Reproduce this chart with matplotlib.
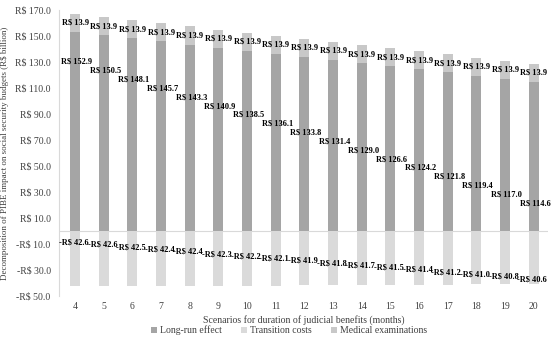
import numpy as np
import matplotlib
matplotlib.use('Agg')
import matplotlib.pyplot as plt
from matplotlib.ticker import FuncFormatter

plt.rcParams['font.family'] = ['Liberation Serif', 'DejaVu Serif']

# scenarios (months of judicial benefit)
months = [4, 5, 6, 7, 8, 9, 10, 11, 12, 13, 14, 15, 16, 17, 18, 19, 20]
long_run = [152.9, 150.5, 148.1, 145.7, 143.3, 140.9, 138.5, 136.1, 133.8,
            131.4, 129.0, 126.6, 124.2, 121.8, 119.4, 117.0, 114.6]
transition = [-42.6, -42.6, -42.5, -42.4, -42.4, -42.3, -42.2, -42.1, -41.9,
              -41.8, -41.7, -41.5, -41.4, -41.2, -41.0, -40.8, -40.6]
medical = [13.9] * 17

c_long = '#a5a5a5'
c_trans = '#dadada'
c_med = '#c8c8c8'

fig = plt.figure(figsize=(5.57, 3.49), dpi=100)
ax = fig.add_axes([0.106, 0.152, 0.878, 0.82])

x = np.arange(len(months))
w = 0.35
ax.bar(x, long_run, w, color=c_long, label='Long-run effect', zorder=2)
ax.bar(x, transition, w, color=c_trans, label='Transition costs', zorder=2)
ax.bar(x, medical, w, bottom=long_run, color=c_med, label='Medical examinations', zorder=2)

ax.axhline(0, color='#d9d9d9', lw=0.8, zorder=1)

def money(v):
    s = 'R$ %.1f' % abs(v)
    return '-' + s if v < 0 else s

lab = dict(fontsize=6, fontweight='bold', ha='center', va='center', zorder=3)
for i in x:
    # data labels were hand-placed in a descending line in the original
    ax.text(i + 0.05, 130 - 6.8 * i, money(long_run[i]), **lab)
    ax.text(i - 0.05, -9 - 1.75 * i, money(transition[i]), **lab)
    ax.text(i, long_run[i] + medical[i] / 2, money(medical[i]), **lab)

ax.set_xlim(-0.56, 16.5)
ax.set_ylim(-50, 170)
ax.set_yticks(np.arange(-50, 171, 20))
ax.yaxis.set_major_formatter(FuncFormatter(lambda v, p: money(v)))
ax.set_xticks(x)
ax.set_xticklabels([str(m) for m in months])
ax.tick_params(length=0, labelsize=7, colors='#404040')
ax.tick_params(axis='y', pad=6)
ax.tick_params(axis='x', pad=4)

for s in ['top', 'right', 'bottom']:
    ax.spines[s].set_visible(False)
ax.spines['left'].set_color('#d9d9d9')

ax.set_xlabel('Scenarios for duration of judicial benefits (months)', fontsize=7, color='#404040', labelpad=3)
ax.set_ylabel('Decomposition of PIBE impact on social security budgets (R$ billion)', fontsize=6.5, color='#404040', labelpad=4)

ax.legend(loc='center', bbox_to_anchor=(0.47, -0.12), ncol=3, frameon=False,
          fontsize=7, handlelength=0.6, handleheight=0.6, handletextpad=0.3, columnspacing=2.0,
          labelcolor='#404040')

fig.savefig('out.png', dpi=100)
